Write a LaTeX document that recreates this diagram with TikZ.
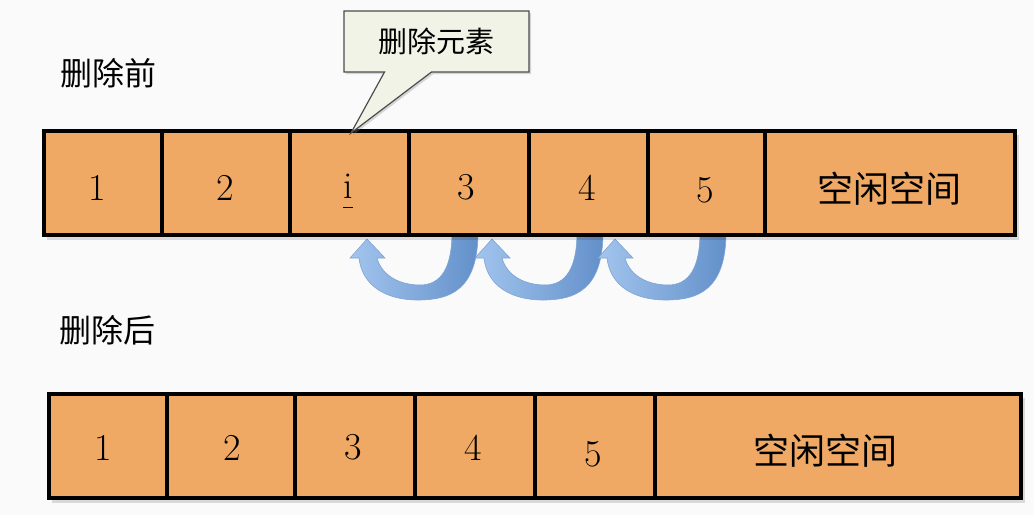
\documentclass[tikz,border=0pt]{standalone}
\usepackage{fontspec}
\newfontfamily\cjk{Noto Sans CJK SC}
\usetikzlibrary{shapes.callouts,shadows,calc}
\definecolor{cellorange}{HTML}{EFA964}
\definecolor{bgcol}{HTML}{FAFAFA}
\definecolor{calloutfill}{HTML}{F2F3E7}
\definecolor{arrowlight}{HTML}{A3C5EE}
\definecolor{arrowdark}{HTML}{6390CA}
\definecolor{arrowedge}{HTML}{7EA4D4}
\begin{document}
\begin{tikzpicture}[x=1pt,y=-1pt,
  cell/.style={draw=black, fill=cellorange, line width=4.5pt, rectangle, inner sep=0pt, outer sep=0pt, minimum height=104pt},
  num/.style={font=\fontsize{38}{44}\selectfont, inner sep=0pt},
  cjkcell/.style={font=\cjk\fontsize{36}{42}\selectfont, inner sep=0pt},
  heading/.style={font=\cjk\fontsize{32}{38}\selectfont, inner sep=0pt, anchor=west},
  barshadow/.style={fill=black, opacity=0.13},
  movearrow/.style={left color=arrowlight, right color=arrowdark, draw=arrowedge, line width=0.6pt},
  calloutbox/.style={rectangle callout, draw=black!70, line width=1.2pt, fill=calloutfill,
    minimum width=185pt, minimum height=61pt, callout pointer width=47pt, inner sep=0pt,
    font=\cjk\fontsize{29}{34}\selectfont,
    drop shadow={opacity=0.3, shadow xshift=2pt, shadow yshift=-2pt}}
]
\fill[bgcol] (0,0) rectangle (1034,515);
\useasboundingbox (0,0) rectangle (1034,515);

% headings
\node[heading] (before) at (60,73) {删除前};
\node[heading] (after) at (59,330) {删除后};

% moving arrows
\foreach \dx in {0,125,248}{
  \shade[movearrow, shift={(\dx,0)}]
    (478,232) .. controls (478,290) and (450,300) .. (418,300)
    .. controls (385,300) and (362,285) .. (359,258)
    -- (350,258) -- (367,239) -- (385,258) -- (377,258)
    .. controls (382,276) and (400,285) .. (420,285)
    .. controls (441,285) and (452,268) .. (452,232) -- cycle;
}

% shadows of the bars
\fill[barshadow] (47,135) rectangle (1019,240);
\fill[barshadow] (52,398) rectangle (1025,503);

% top bar
\node[cell, minimum width=118pt] (c1) at (103,183) {};
\node[cell, minimum width=128pt] (c2) at (226,183) {};
\node[cell, minimum width=119pt] (c3) at (349.5,183) {};
\node[cell, minimum width=120pt] (c4) at (469,183) {};
\node[cell, minimum width=119pt] (c5) at (588.5,183) {};
\node[cell, minimum width=117pt] (c6) at (706.5,183) {};
\node[cell, minimum width=250pt] (c7) at (890,183) {};

\node[num] (t1) at (97,187.5) {1};
\node[num] (t2) at (225,187.5) {2};
\node[num] (t3) at (348,191) {\underline{i\vphantom{p}}};
\node[num] (t4) at (466,187.5) {3};
\node[num] (t5) at (587,187.5) {4};
\node[num] (t6) at (705,190) {5};
\node[cjkcell] (t7) at (889,189) {空闲空间};

% bottom bar
\node[cell, minimum width=118pt] (d1) at (108,446) {};
\node[cell, minimum width=128pt] (d2) at (231,446) {};
\node[cell, minimum width=120pt] (d3) at (355,446) {};
\node[cell, minimum width=120pt] (d4) at (475,446) {};
\node[cell, minimum width=120pt] (d5) at (595,446) {};
\node[cell, minimum width=366pt] (d6) at (838,446) {};

\node[num] (u1) at (103,447.5) {1};
\node[num] (u2) at (232,447.5) {2};
\node[num] (u3) at (353,447.5) {3};
\node[num] (u4) at (473,448) {4};
\node[num] (u5) at (593,454) {5};
\node[cjkcell] (u6) at (825,451) {空闲空间};

% callout
\coordinate (tip) at ($(c3.north)+(1.5,2)$);
\node[calloutbox, callout absolute pointer={(tip)}] (callout) at (436.5,41.5) {删除元素};
\end{tikzpicture}
\end{document}
